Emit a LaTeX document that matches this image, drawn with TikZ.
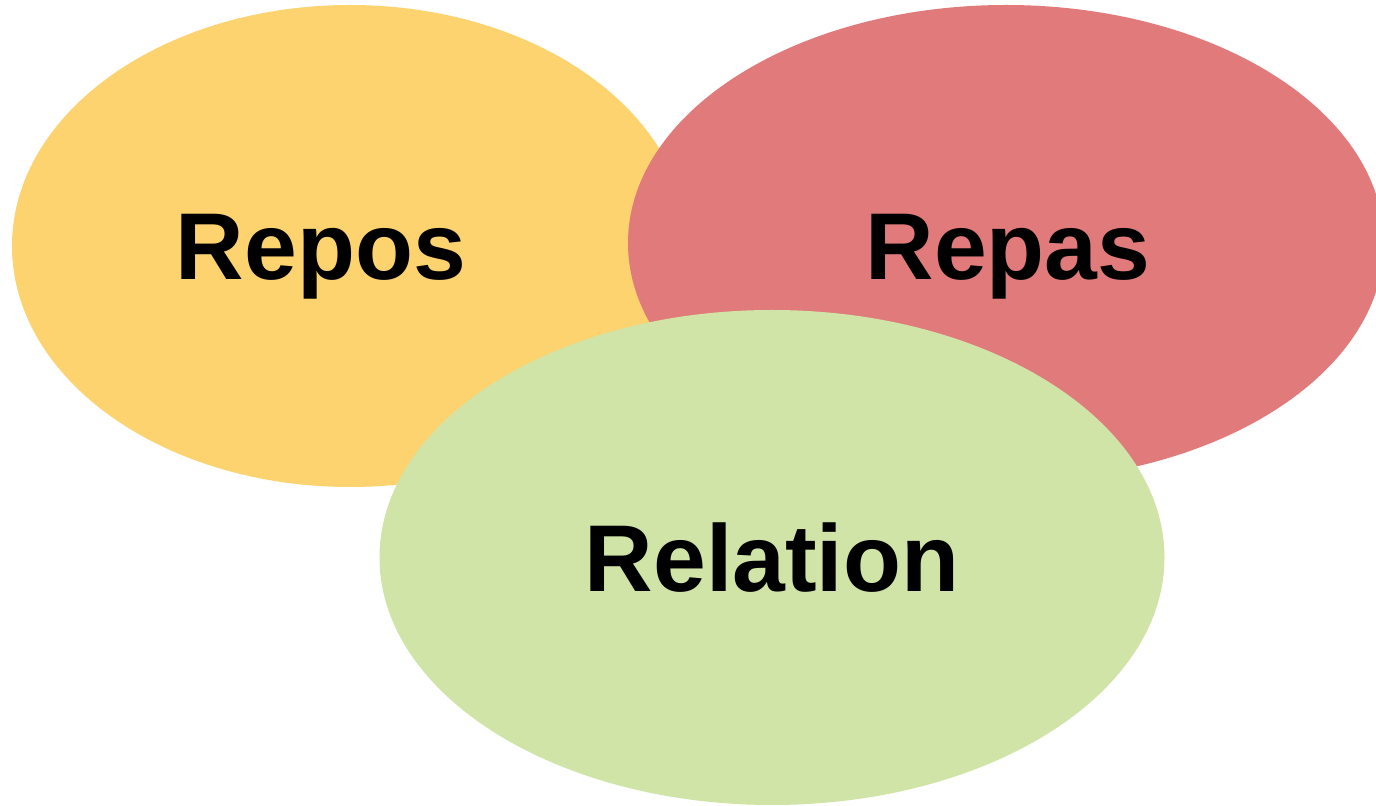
\documentclass[tikz,border=0pt]{standalone}
\usepackage{fontspec}
\setmainfont{Liberation Sans}
\usetikzlibrary{shapes.geometric}
\definecolor{sunyellow}{HTML}{FCD36F}
\definecolor{softred}{HTML}{E17B7B}
\definecolor{palegreen}{HTML}{D1E4A7}
\tikzstyle{blob} = [ellipse, inner sep=0pt, draw=none]
\tikzstyle{tag} = [anchor=base, inner sep=0pt, font=\fontsize{27}{33}\selectfont\bfseries, text=black]

\begin{document}
\begin{tikzpicture}

\useasboundingbox (0,0) rectangle (13.76,-8.06);

% Ellipses
\node[blob, fill=sunyellow, minimum width=6.76cm, minimum height=4.82cm] (repos) at (3.50,-2.46) {};
\node[blob, fill=softred, minimum width=7.56cm, minimum height=4.76cm] (repas) at (10.06,-2.43) {};
\node[blob, fill=palegreen, minimum width=7.85cm, minimum height=4.95cm] (relation) at (7.72,-5.575) {};

% Labels
\node[tag] (reposlabel) at (3.21,-2.80) {Repos};
\node[tag] (repaslabel) at (10.08,-2.80) {Repas};
\node[tag] (relationlabel) at (7.72,-5.92) {Relation};

\end{tikzpicture}
\end{document}
